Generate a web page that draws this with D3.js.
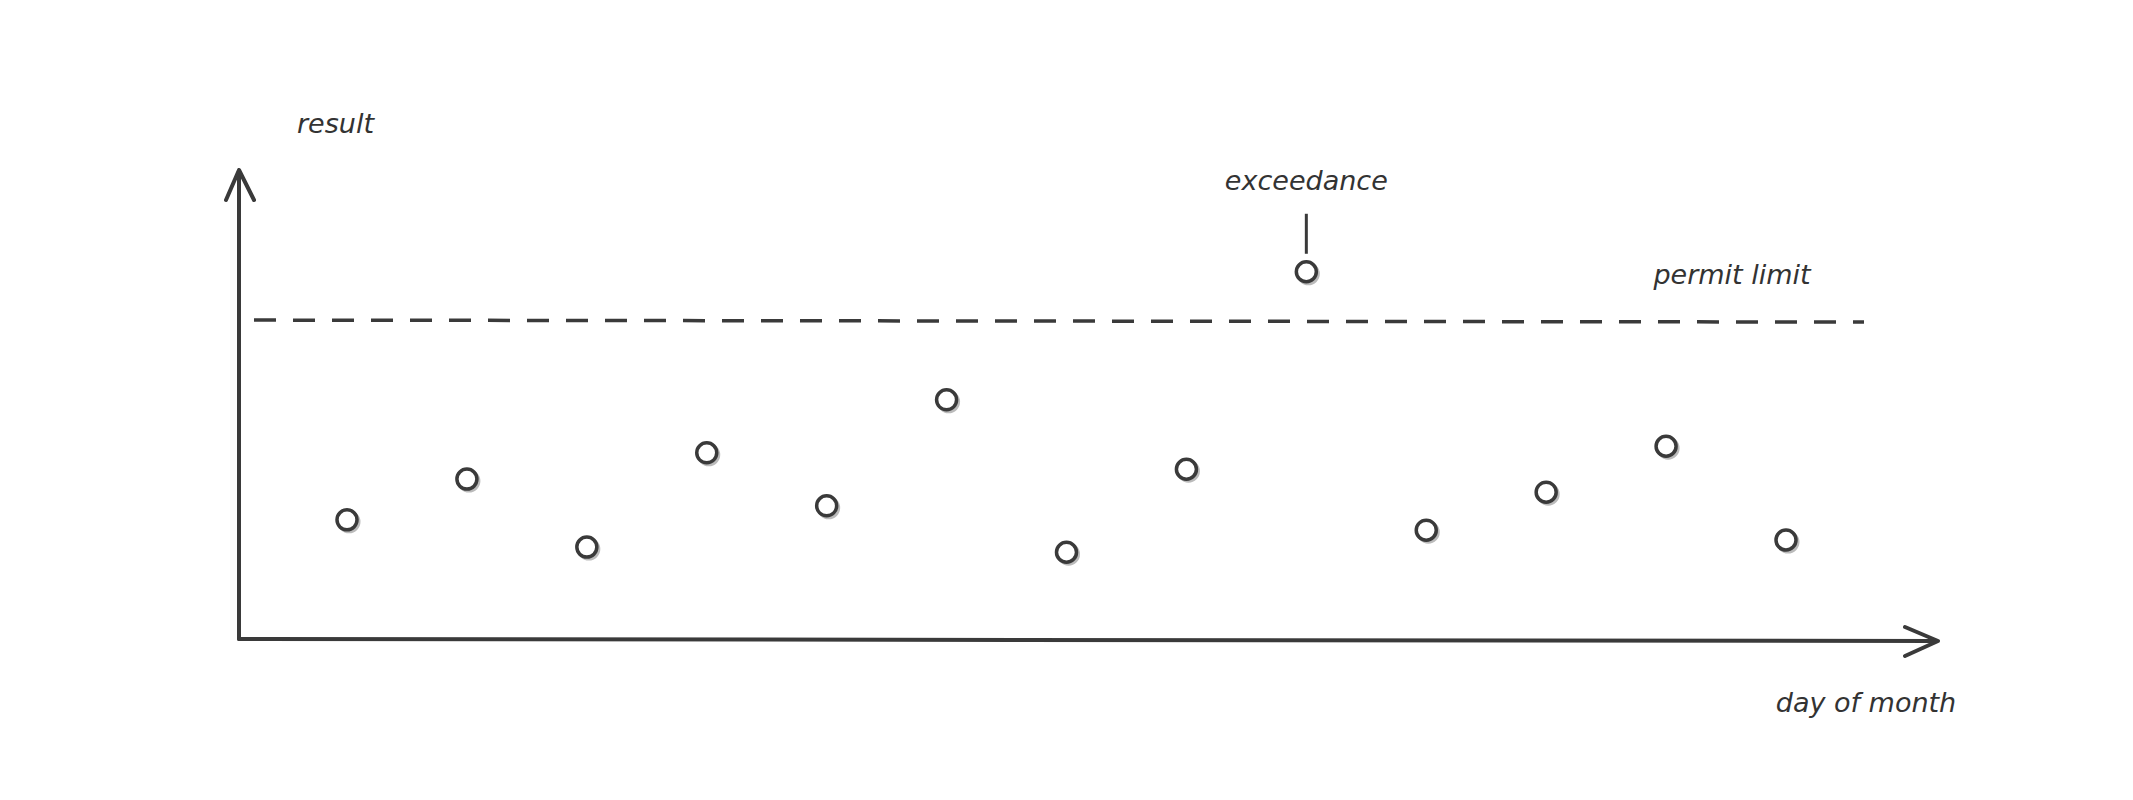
<!DOCTYPE html>
<html>
<head>
<meta charset="utf-8">
<script src="https://cdn.jsdelivr.net/npm/d3@7"></script>
<style>
  body { margin: 0; background: #fff; }
  text { font-family: "DejaVu Sans", sans-serif; font-style: italic; fill: #333; }
</style>
</head>
<body>
<script>
// data
const days = [1, 2, 3, 4, 5, 6, 7, 8, 9, 10, 11, 12, 13]
const results = [25.4, 34.1, 19.6, 39.7, 28.4, 51, 18.5, 36.2, 78.3, 23.2, 31.3, 41.1, 21.1]
const permitLimit = [68]
const exceedanceDay = 9

const W = 2133, H = 800
const ink = "#3a3a3a"

let svg = d3.select("body").append("svg").attr("width", W).attr("height", H)

let x = d3.scaleLinear().domain([1, 13]).range([347, 1786])
let y = d3.scaleLinear().domain([0, 100]).range([639, 170])

// axes as arrows
svg.append("path")
  .attr("d", `M239,639 L239,170 M226,200 L239,170 L254,200`)
  .attr("fill", "none").attr("stroke", ink).attr("stroke-width", 4)
  .attr("stroke-linecap", "round").attr("stroke-linejoin", "round")
svg.append("path")
  .attr("d", `M239,639 L1938,641 M1905,627 L1938,641 L1905,656`)
  .attr("fill", "none").attr("stroke", ink).attr("stroke-width", 4)
  .attr("stroke-linecap", "round").attr("stroke-linejoin", "round")

// permit limit
svg.selectAll(".limit").data(permitLimit).enter().append("line")
  .attr("x1", 254).attr("x2", 1864)
  .attr("y1", d => y(d)).attr("y2", d => y(d) + 2)
  .attr("stroke", ink).attr("stroke-width", 3.5)
  .attr("stroke-dasharray", "22,17")

// shadows then circles
svg.selectAll(".shadow").data(days).enter().append("circle")
  .attr("cx", d => x(d) + 2).attr("cy", (d, i) => y(results[i]) + 2).attr("r", 10)
  .attr("fill", "none").attr("stroke", "#bbb").attr("stroke-width", 3)
svg.selectAll(".pt").data(days).enter().append("circle")
  .attr("cx", d => x(d)).attr("cy", (d, i) => y(results[i])).attr("r", 10)
  .attr("fill", "#fff").attr("stroke", ink).attr("stroke-width", 3.5)

// exceedance marker
let ex = results[days.indexOf(exceedanceDay)]
svg.append("line")
  .attr("x1", x(exceedanceDay)).attr("x2", x(exceedanceDay))
  .attr("y1", y(ex) - 58).attr("y2", y(ex) - 18)
  .attr("stroke", ink).attr("stroke-width", 3)
svg.append("text").attr("x", x(exceedanceDay)).attr("y", y(ex) - 82)
  .attr("text-anchor", "middle").attr("font-size", 27).text("exceedance")

svg.append("text").attr("x", 297).attr("y", 133).attr("font-size", 27).text("result")
svg.append("text").attr("x", 1732).attr("y", y(permitLimit[0]) - 36)
  .attr("text-anchor", "middle").attr("font-size", 27).text("permit limit")
svg.append("text").attr("x", 1866).attr("y", 712)
  .attr("text-anchor", "middle").attr("font-size", 27).text("day of month")
</script>
</body>
</html>
